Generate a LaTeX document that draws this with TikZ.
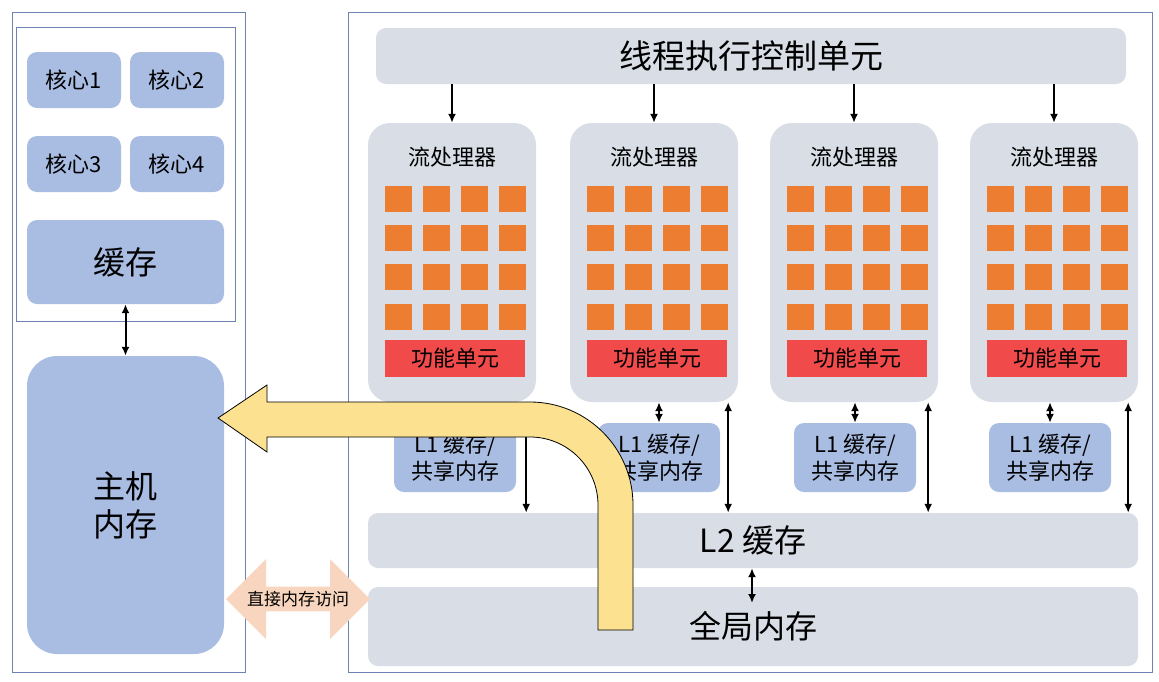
\documentclass[tikz,border=0pt]{standalone}
\usepackage{fontspec}
\setmainfont{Noto Sans CJK SC}
\usetikzlibrary{arrows.meta,calc,shapes.arrows}
\definecolor{panelgray}{RGB}{217,222,230}
\definecolor{nodeblue}{RGB}{169,189,227}
\definecolor{boxline}{RGB}{110,130,180}
\definecolor{cudaorange}{RGB}{237,125,49}
\definecolor{funcred}{RGB}{240,74,74}
\definecolor{dmapeach}{RGB}{248,213,190}
\definecolor{pathyellow}{RGB}{252,225,145}

\begin{document}
\begin{tikzpicture}[x=1pt, y=-1pt, >={Latex[length=9pt,width=8pt]},
panel/.style={fill=panelgray, rounded corners=10pt, inner sep=0pt},
bluebox/.style={fill=nodeblue, rounded corners=10pt, inner sep=0pt, align=center},
frame/.style={draw=boxline, line width=1pt},
core/.style={bluebox, minimum width=94pt, minimum height=56pt, font=\fontsize{22}{26}\selectfont},
l1box/.style={bluebox, minimum width=122pt, minimum height=69pt, font=\fontsize{22}{27}\selectfont},
sq/.style={fill=cudaorange, minimum width=27pt, minimum height=26pt, inner sep=0pt},
link/.style={<->, line width=2pt},
down/.style={->, line width=2pt}
]
\useasboundingbox (0,0) rectangle (1159,681);

% host side
\draw[frame] (12,12) rectangle (245,672);
\draw[frame] (16,27) rectangle (235,321);
\node[core] (c1) at (74,80) {核心1};
\node[core] (c2) at (177,80) {核心2};
\node[core] (c3) at (74,164) {核心3};
\node[core] (c4) at (177,164) {核心4};
\node[bluebox, minimum width=197pt, minimum height=84pt, font=\fontsize{32}{36}\selectfont] (cache) at (125.5,262) {缓存};
\node[bluebox, rounded corners=30pt, minimum width=197pt, minimum height=298pt, font=\fontsize{32}{38}\selectfont] (hostmem) at (125.5,505) {主机\\内存};
\draw[link] (cache.south) -- (hostmem.north);

% device side
\draw[frame] (348,12) rectangle (1152,672);
\node[panel, minimum width=750pt, minimum height=56pt, font=\fontsize{33}{38}\selectfont] (ctrl) at (751,56) {线程执行控制单元};
\node[panel, minimum width=770pt, minimum height=55pt, font=\fontsize{32}{36}\selectfont] (l2) at (753,540.5) {L2 缓存};
\node[panel, minimum width=770pt, minimum height=79pt, font=\fontsize{32}{36}\selectfont] (gmem) at (753,626.5) {全局内存};
\draw[link] (l2.south -| 752,0) -- (752,603);

\foreach \i/\x/\lx in {1/368/455, 2/570/659, 3/770/855, 4/970/1050} {
  \node[panel, rounded corners=22pt, minimum width=168pt, minimum height=279pt] (sm\i) at (\x+84,262.5) {};
  \node[font=\fontsize{22}{26}\selectfont] at (\x+84,157) {流处理器};
  \foreach \c in {0,...,3}
    \foreach \r/\ry in {0/199, 1/238, 2/277, 3/317}
      \node[sq] at (\x+30.5+38*\c,\ry) {};
  \node[fill=funcred, minimum width=140pt, minimum height=37pt, inner sep=0pt, font=\fontsize{22}{26}\selectfont] (fu\i) at (\x+87,358.5) {功能单元};
  \node[l1box] (l1\i) at (\lx,457.5) {L1 缓存/\\共享内存};
  \draw[down] (ctrl.south -| sm\i.north) -- (sm\i.north);
  \draw[link] (sm\i.south -| l1\i.north) -- (l1\i.north);
  \draw[link] ([xshift=-10pt]sm\i.south east) -- ([xshift=-10pt]sm\i.south east |- l2.north);
}

% DMA arrow
\node[double arrow, fill=dmapeach, minimum width=80pt, minimum height=144pt,
  double arrow head extend=18pt, inner sep=0pt, font=\fontsize{17}{20}\selectfont] (dma) at (298,599) {直接内存访问};

% data path arrow
\draw[fill=pathyellow, line width=0.8pt] (633,630) -- (633,505) arc (0:-90:103) -- (267,402) -- (267,385)
  -- (218,418) -- (267,452) -- (267,437) -- (530,437) arc (-90:0:68) -- (598,630) -- cycle;
\end{tikzpicture}
\end{document}
